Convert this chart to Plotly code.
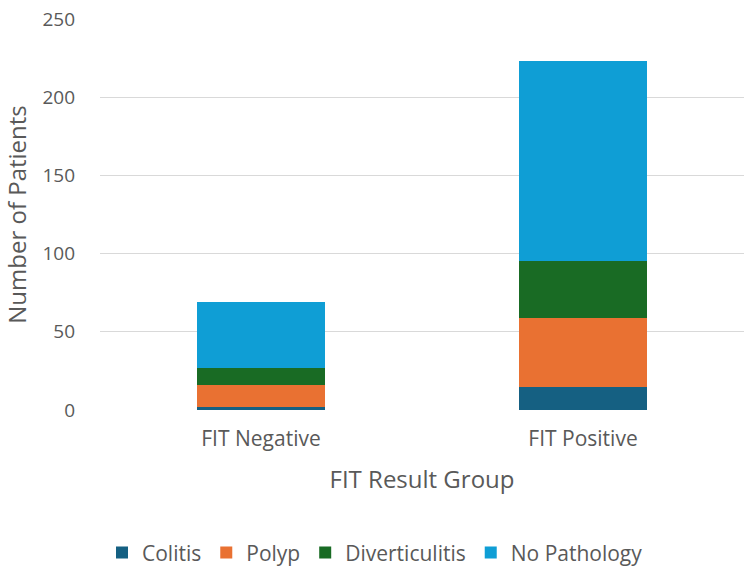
import plotly.graph_objects as go

categories = ["FIT Negative", "FIT Positive"]
colitis = [2, 15]
polyp = [14, 44]
diverticulitis = [11, 36]
no_pathology = [42, 128]

series = [
    ("Colitis", colitis, "#156082"),
    ("Polyp", polyp, "#E97132"),
    ("Diverticulitis", diverticulitis, "#196B24"),
    ("No Pathology", no_pathology, "#0F9ED5"),
]

fig = go.Figure()
for name, vals, col in series:
    fig.add_trace(go.Bar(x=categories, y=vals, name=name, marker_color=col,
                         marker_line_width=0))

font_color = "#595959"
fig.update_layout(
    barmode="stack",
    bargap=0.6,
    width=750, height=571,
    paper_bgcolor="white", plot_bgcolor="white",
    margin=dict(l=100, r=6, t=17, b=161),
    font=dict(family="Open Sans", color=font_color, size=19),
    legend=dict(orientation="h", x=0.5, xanchor="center", xref="container",
                y=0.032, yanchor="middle", yref="container", itemwidth=30,
                font=dict(size=21, color=font_color), traceorder="normal"),
    xaxis=dict(title=dict(text="FIT Result Group", font=dict(size=24), standoff=20),
               showgrid=False, zeroline=False, showline=False,
               tickfont=dict(size=21), ticks="", ticklabelstandoff=14),
    yaxis=dict(title=dict(text="Number of Patients", font=dict(size=24), standoff=16),
               range=[0, 250], dtick=50, showgrid=True, gridcolor="#D9D9D9",
               gridwidth=1, zeroline=False, showline=False, ticks="",
               tickfont=dict(size=19), ticklabelstandoff=24),
)

fig.write_html("out.html")
